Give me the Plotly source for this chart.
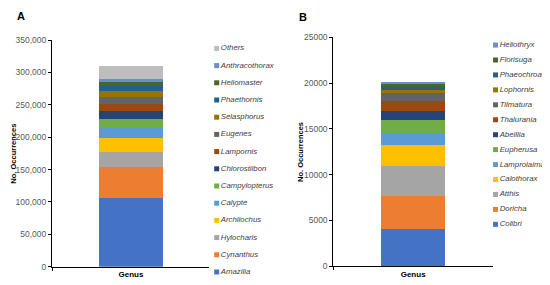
import plotly.graph_objects as go

# Panel A: genera, bottom of stack first
genera_a = ["Amazilia", "Cynanthus", "Hylocharis", "Archilochus", "Calypte",
            "Campylopterus", "Chlorostilbon", "Lampornis", "Eugenes", "Selasphorus",
            "Phaethornis", "Heliomaster", "Anthracothorax", "Others"]
counts_a = [106000, 48400, 23200, 20600, 16500, 13400, 12400, 10800, 10300,
            9300, 8200, 6200, 4100, 20600]

# Panel B: genera, bottom of stack first
genera_b = ["Colibri", "Doricha", "Atthis", "Calothorax", "Lamprolaima", "Eupherusa",
            "Abeillia", "Thalurania", "Tilmatura", "Lophornis", "Phaeochroa",
            "Florisuga", "Heliothryx"]
counts_b = [4000, 3680, 3280, 2230, 1350, 1390, 1050, 1090, 810, 360, 300, 360, 250]

colors = ["#4472C4", "#ED7D31", "#A5A5A5", "#FFC000", "#5B9BD5", "#70AD47",
          "#264478", "#9E480E", "#636363", "#997300", "#255E91", "#43682B",
          "#698ED0"]
colors_a = colors + ["#BDBDBD"]
colors_b = colors

FONT = "Liberation Sans, Arial, sans-serif"
TICK_COLOR = "#595959"

# the page body has an 8px margin, so the figure is a bit smaller than the window
OFF = 8
W, H = 550 - OFF, 285 - OFF


def fx(px):
    return (px - OFF) / W


def fy(py):
    return 1 - (py - OFF) / H


fig = go.Figure()

# stacked bars
for name, val, col in zip(genera_a, counts_a, colors_a):
    fig.add_trace(go.Bar(x=["Genus"], y=[val], name=name, marker_color=col,
                         marker_line_width=0, showlegend=False,
                         xaxis="x", yaxis="y"))
for name, val, col in zip(genera_b, counts_b, colors_b):
    fig.add_trace(go.Bar(x=["Genus"], y=[val], name=name, marker_color=col,
                         marker_line_width=0, showlegend=False,
                         xaxis="x2", yaxis="y2"))

# hand-made legends (Excel-style compact spacing)
legend_font = dict(size=7.8, color="#404040", family=FONT, style="italic")
fig.add_trace(go.Scatter(x=[0] * len(genera_a), y=list(range(len(genera_a))),
                         mode="markers+text", text=genera_a,
                         textposition="middle right", textfont=legend_font,
                         marker=dict(symbol="square", size=5, color=colors_a),
                         showlegend=False, hoverinfo="skip", cliponaxis=False,
                         xaxis="x3", yaxis="y3"))
fig.add_trace(go.Scatter(x=[0] * len(genera_b), y=list(range(len(genera_b))),
                         mode="markers+text", text=genera_b,
                         textposition="middle right", textfont=legend_font,
                         marker=dict(symbol="square", size=5, color=colors_b),
                         showlegend=False, hoverinfo="skip", cliponaxis=False,
                         xaxis="x4", yaxis="y4"))

xcat = dict(showline=True, linecolor="black", linewidth=1, ticks="outside",
            tickson="boundaries", ticklen=3, tickcolor="black", automargin=False,
            tickfont=dict(size=8, color="black", family=FONT, weight="bold"),
            showgrid=False, zeroline=False, fixedrange=True)
ycnt = dict(showline=True, linecolor="black", linewidth=1, ticks="outside",
            ticklen=3, tickcolor="black", showgrid=False, zeroline=False,
            automargin=False, tickfont=dict(size=8.5, color=TICK_COLOR, family=FONT))
hidden = dict(visible=False, fixedrange=True, automargin=False)


def label(text, x, y, size, angle=0):
    return dict(text=text, x=fx(x), y=fy(y), xref="paper", yref="paper",
                xanchor="center", yanchor="middle", textangle=angle,
                showarrow=False, font=dict(size=size, color="black", family=FONT))


fig.update_layout(
    width=W, height=H,
    margin=dict(l=0, r=0, t=0, b=0, autoexpand=False),
    paper_bgcolor="white", plot_bgcolor="white",
    barmode="stack", bargap=0.6,
    font=dict(family=FONT),
    xaxis=dict(domain=[fx(52), fx(210)], anchor="y", **xcat),
    yaxis=dict(domain=[fy(266.7), fy(40)], anchor="x",
               range=[0, 350000], dtick=50000, tickformat=",", **ycnt),
    xaxis2=dict(domain=[fx(333.3), fx(493)], anchor="y2", **xcat),
    yaxis2=dict(domain=[fy(266), fy(37.3)], anchor="x2",
                range=[0, 25000], dtick=5000, tickformat="d", **ycnt),
    # legend A: marker column at x~216.5px
    xaxis3=dict(domain=[fx(209), fx(286)], anchor="y3", range=[-0.1, 0.9], **hidden),
    yaxis3=dict(domain=[fy(280.6), fy(39.8)], anchor="x3",
                range=[-0.5, 13.5], **hidden),
    # legend B: marker column at x~495.5px
    xaxis4=dict(domain=[fx(489.5), 1.0], anchor="y4", range=[-0.1, 0.9], **hidden),
    yaxis4=dict(domain=[fy(231.8), fy(37.6)], anchor="x4",
                range=[-0.5, 12.5], **hidden),
    annotations=[
        label("<b>A</b>", 21, 16, 11),
        label("<b>B</b>", 303, 17, 11),
        label("<b>No. Occurrences</b>", 12.7, 154, 7.5, -90),
        label("<b>No. Occurrences</b>", 300, 152, 7.5, -90),
    ],
)

fig.write_html("out.html")
